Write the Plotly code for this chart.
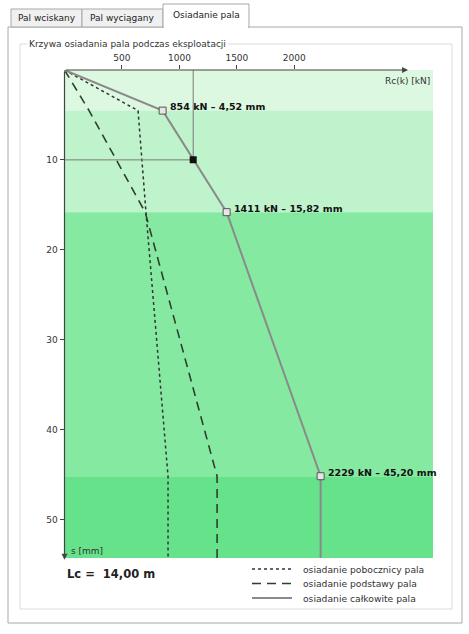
import plotly.graph_objects as go

# settlement curve data
s_mm = [0, 4.52, 15.82, 45.20, 54.3]          # settlement s [mm]
r_total = [0, 854, 1411, 2229, 2229]          # total resistance Rc(k) [kN]
r_shaft = [0, 640, 709, 901, 901]             # shaft part
r_base = [0, 214, 702, 1328, 1328]            # base part
layer_edges = [0, 4.52, 15.82, 45.20, 54.3]
layer_colors = ['#dcf8e0', '#bff3cc', '#86e9a1', '#66e38a']
point_r = 1120                                # working point at s = 10 mm
point_s = 10

series_names = ['osiadanie pobocznicy pala', 'osiadanie podstawy pala', 'osiadanie całkowite pala']
x_ticks = [500, 1000, 1500, 2000]
y_ticks = [10, 20, 30, 40, 50]
x_max = 3207
x_arrow = 2990

W, H = 469, 634


def px(x):
    return x / W


def py(y):
    return 1 - y / H


FONT = 'DejaVu Sans'
styles = [dict(color='#333333', width=1.5, dash='dot'),
          dict(color='#2f3f2f', width=1.6, dash='9px,6px'),
          dict(color='#8a8a8a', width=2)]

fig = go.Figure()

for xs, name, st in zip([r_shaft, r_base, r_total], series_names, styles):
    fig.add_trace(go.Scatter(x=xs, y=s_mm, mode='lines', name=name,
                             line=st, showlegend=False))

# crosshair to the working point
fig.add_trace(go.Scatter(
    x=[0, point_r, point_r], y=[point_s, point_s, 0], mode='lines',
    line=dict(color='#7a7a7a', width=1), showlegend=False, hoverinfo='skip'))

# characteristic points
fig.add_trace(go.Scatter(
    x=r_total[1:4], y=s_mm[1:4], mode='markers', showlegend=False,
    marker=dict(symbol='square', size=7, color='#e6e6e6',
                line=dict(color='#555555', width=1))))
fig.add_trace(go.Scatter(
    x=[point_r], y=[point_s], mode='markers', showlegend=False,
    marker=dict(symbol='square', size=7, color='#111111')))

for r, s in zip(r_total[1:4], s_mm[1:4]):
    fig.add_annotation(
        x=r, y=s, xref='x', yref='y', showarrow=False,
        text='<b>%d kN – %s mm</b>' % (r, ('%.2f' % s).replace('.', ',')),
        xanchor='left', yanchor='middle', xshift=5, yshift=4,
        font=dict(family=FONT, size=9.5, color='#111111'))

# soil layer bands
shapes = []
for i, c in enumerate(layer_colors):
    shapes.append(dict(type='rect', xref='x', yref='y', x0=0, x1=x_max,
                       y0=layer_edges[i], y1=layer_edges[i + 1],
                       fillcolor=c, line=dict(width=0), layer='below'))

# window frame: tabs, panel, group box
shapes.append(dict(type='rect', xref='paper', yref='paper',
                   x0=px(8), x1=px(462), y0=py(623), y1=py(27),
                   line=dict(color='#a8a8a8', width=1), fillcolor='white', layer='below'))
shapes.append(dict(type='rect', xref='paper', yref='paper',
                   x0=px(20), x1=px(452), y0=py(609), y1=py(44),
                   line=dict(color='#dcdcdc', width=1), layer='below'))
tabs = [(11, 82, 9, 'Pal wciskany', '#f0f0f0'),
        (82, 163, 9, 'Pal wyciągany', '#f0f0f0'),
        (163, 249, 4, 'Osiadanie pala', 'white')]
for x0, x1, y0, label, bg in tabs:
    shapes.append(dict(type='rect', xref='paper', yref='paper',
                       x0=px(x0), x1=px(x1), y0=py(27), y1=py(y0),
                       line=dict(color='#a8a8a8', width=1), fillcolor=bg, layer='below'))
    fig.add_annotation(x=px((x0 + x1) / 2), y=py((y0 + 27) / 2), xref='paper', yref='paper',
                       xanchor='center', yanchor='middle', text=label, showarrow=False,
                       font=dict(family=FONT, size=9, color='#222222'))
shapes.append(dict(type='line', xref='paper', yref='paper',
                   x0=px(164), x1=px(248), y0=py(27), y1=py(27),
                   line=dict(color='white', width=2)))

fig.add_annotation(x=px(27), y=py(44), xref='paper', yref='paper',
                   xanchor='left', yanchor='middle',
                   text='Krzywa osiadania pala podczas eksploatacji', showarrow=False,
                   bgcolor='white', borderpad=1,
                   font=dict(family=FONT, size=9, color='#333333'))

# axes drawn as arrows
fig.add_annotation(x=x_arrow, y=0, ax=0, ay=0, xref='x', yref='y', axref='x', ayref='y',
                   showarrow=True, arrowhead=2, arrowsize=1, arrowwidth=1.2,
                   arrowcolor='#444444', text='')
fig.add_annotation(x=0, y=54.5, ax=0, ay=0, xref='x', yref='y', axref='x', ayref='y',
                   showarrow=True, arrowhead=2, arrowsize=1, arrowwidth=1.2,
                   arrowcolor='#444444', text='')
fig.add_annotation(x=px(432), y=py(81), xref='paper', yref='paper',
                   xanchor='right', yanchor='middle',
                   text='Rc(k) [kN]', showarrow=False,
                   font=dict(family=FONT, size=9, color='#333333'))
fig.add_annotation(x=px(69), y=py(551), xref='paper', yref='paper',
                   xanchor='left', yanchor='middle',
                   text='s [mm]', showarrow=False,
                   font=dict(family=FONT, size=9, color='#333333'))
fig.add_annotation(x=px(65), y=py(574), xref='paper', yref='paper',
                   xanchor='left', yanchor='middle',
                   text='<b>Lc =  14,00 m</b>', showarrow=False,
                   font=dict(family=FONT, size=11.5, color='#222222'))

# legend drawn as sample lines with labels
for i, (name, st) in enumerate(zip(series_names, styles)):
    yy = py(569 + i * 14.5)
    shapes.append(dict(type='line', xref='paper', yref='paper',
                       x0=px(252), x1=px(292), y0=yy, y1=yy, line=st))
    fig.add_annotation(x=px(301), y=yy, xref='paper', yref='paper', xanchor='left',
                       yanchor='middle', text=name, showarrow=False,
                       font=dict(family=FONT, size=9.2, color='#333333'))

fig.update_layout(
    width=W, height=H,
    margin=dict(l=0, r=0, t=0, b=0, autoexpand=False),
    paper_bgcolor='white',
    plot_bgcolor='rgba(0,0,0,0)',
    shapes=shapes,
    showlegend=False,
    xaxis=dict(domain=[px(64.5), px(433)], range=[0, x_max], side='top',
               tickvals=x_ticks, ticks='outside', ticklen=4, tickcolor='#444444',
               showgrid=False, zeroline=False, showline=False, automargin=False,
               tickfont=dict(family=FONT, size=9, color='#333333')),
    yaxis=dict(domain=[py(558), py(70)], range=[54.3, 0],
               tickvals=y_ticks, ticks='outside', ticklen=4, tickcolor='#444444',
               showgrid=False, zeroline=False, showline=False, automargin=False,
               tickfont=dict(family=FONT, size=9, color='#333333')),
)

fig.write_html('out.html', config={'displayModeBar': False},
               post_script="document.body.style.margin='0';")
